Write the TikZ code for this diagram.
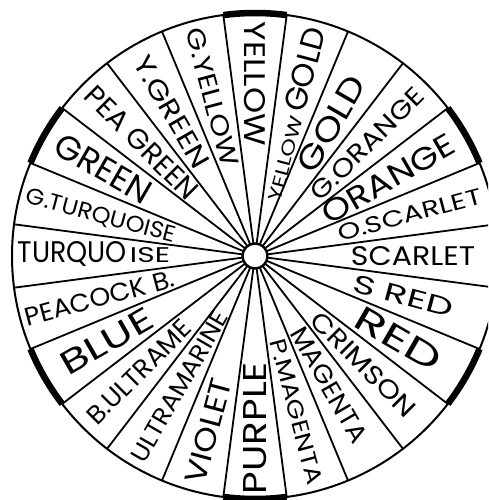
\documentclass[tikz,border=0pt]{standalone}
\usepackage{fontspec}
\setmainfont{Poppins}
\usepackage{graphicx}
\newcommand\rb[3]{\resizebox{#1pt}{#2pt}{#3}}
\begin{document}
\begin{tikzpicture}[x=1pt,y=1pt,
  rim/.style={line width=2pt},
  spoke/.style={line width=1.8pt},
  keyarc/.style={line width=6.5pt},
  hub/.style={line width=2.4pt, fill=white},
  lbl/.style={inner sep=0pt, text depth=0pt, anchor=center}]
\useasboundingbox (-255,-244) rectangle (233,256);
\clip (-255,-244) rectangle (233,256);
\foreach \k in {0,...,23} \draw[spoke] (97.5-15*\k:12.5pt) -- (97.5-15*\k:243pt);
\draw[rim] (0,0) circle[radius=243pt];
\draw[hub] (0,0) circle[radius=12.5pt];
\foreach \a in {90,30,-30,-90,-150,150}
  \draw[keyarc] (\a-7.5:243pt) arc[start angle=\a-7.5, end angle=\a+7.5, radius=243pt];
% labels
\node[lbl, rotate=-90] (l0) at (90:172pt) {\rb{124}{21}{YELLOW}};
\node[lbl, rotate=75] (l1) at (75:147pt) {\rb{88}{13}{YELLOW}\hspace{4pt}\rb{86}{22}{GOLD}};
\node[lbl, rotate=60] (l2) at (60:152.5pt) {\rb{105}{23}{GOLD}};
\node[lbl, rotate=45] (l3) at (45:158.5pt) {\rb{149}{18}{G.ORANGE}};
\node[lbl, rotate=30] (l4) at (30:154pt) {\rb{148}{22}{ORANGE}};
\node[lbl, rotate=15] (l5) at (15:160pt) {\rb{148}{16}{O.SCARLET}};
\node[lbl, rotate=0] (l6) at (0:158pt) {\rb{124}{19}{SCARLET}};
\node[lbl, rotate=-15] (l7) at (-15:153.5pt) {\rb{103}{18}{S RED}};
\node[lbl, rotate=-30] (l8) at (-30:165.5pt) {\rb{95}{24}{RED}};
\node[lbl, rotate=-45] (l9) at (-45:153.5pt) {\rb{137}{18}{CRIMSON}};
\node[lbl, rotate=-60] (l10) at (-60:149pt) {\rb{130}{18}{MAGENTA}};
\node[lbl, rotate=-75] (l11) at (-75:161pt) {\rb{150}{16}{P.MAGENTA}};
\node[lbl, rotate=90] (l12) at (-90:172pt) {\rb{132}{23}{PURPLE}};
\node[lbl, rotate=75] (l13) at (255:181pt) {\rb{108}{21}{VIOLET}};
\node[lbl, rotate=60] (l14) at (240:151pt) {\rb{170}{17}{ULTRAMARINE}};
\node[lbl, rotate=45] (l15) at (225:164pt) {\rb{136}{18}{B.ULTRAME}};
\node[lbl, rotate=30] (l16) at (210:171pt) {\rb{102}{23}{BLUE}};
\node[lbl, rotate=15] (l17) at (195:161pt) {\rb{154}{18}{PEACOCK B.}};
\node[lbl, rotate=0] (l18) at ([yshift=4pt]180:161pt) {\rb{109}{21}{TURQUO}\hspace{3pt}\rb{40}{15}{ISE}};
\node[lbl, rotate=-15] (l19) at (165:159pt) {\rb{154}{16}{G.TURQUOISE}};
\node[lbl, rotate=-30] (l20) at (150:175pt) {\rb{106}{24}{GREEN}};
\node[lbl, rotate=-45] (l21) at (135:160pt) {\rb{148}{20}{PEA GREEN}};
\node[lbl, rotate=-60] (l22) at (120:166.5pt) {\rb{125}{19}{Y.GREEN}};
\node[lbl, rotate=-75] (l23) at (105:164.5pt) {\rb{143}{18}{G.YELLOW}};
\end{tikzpicture}
\end{document}
